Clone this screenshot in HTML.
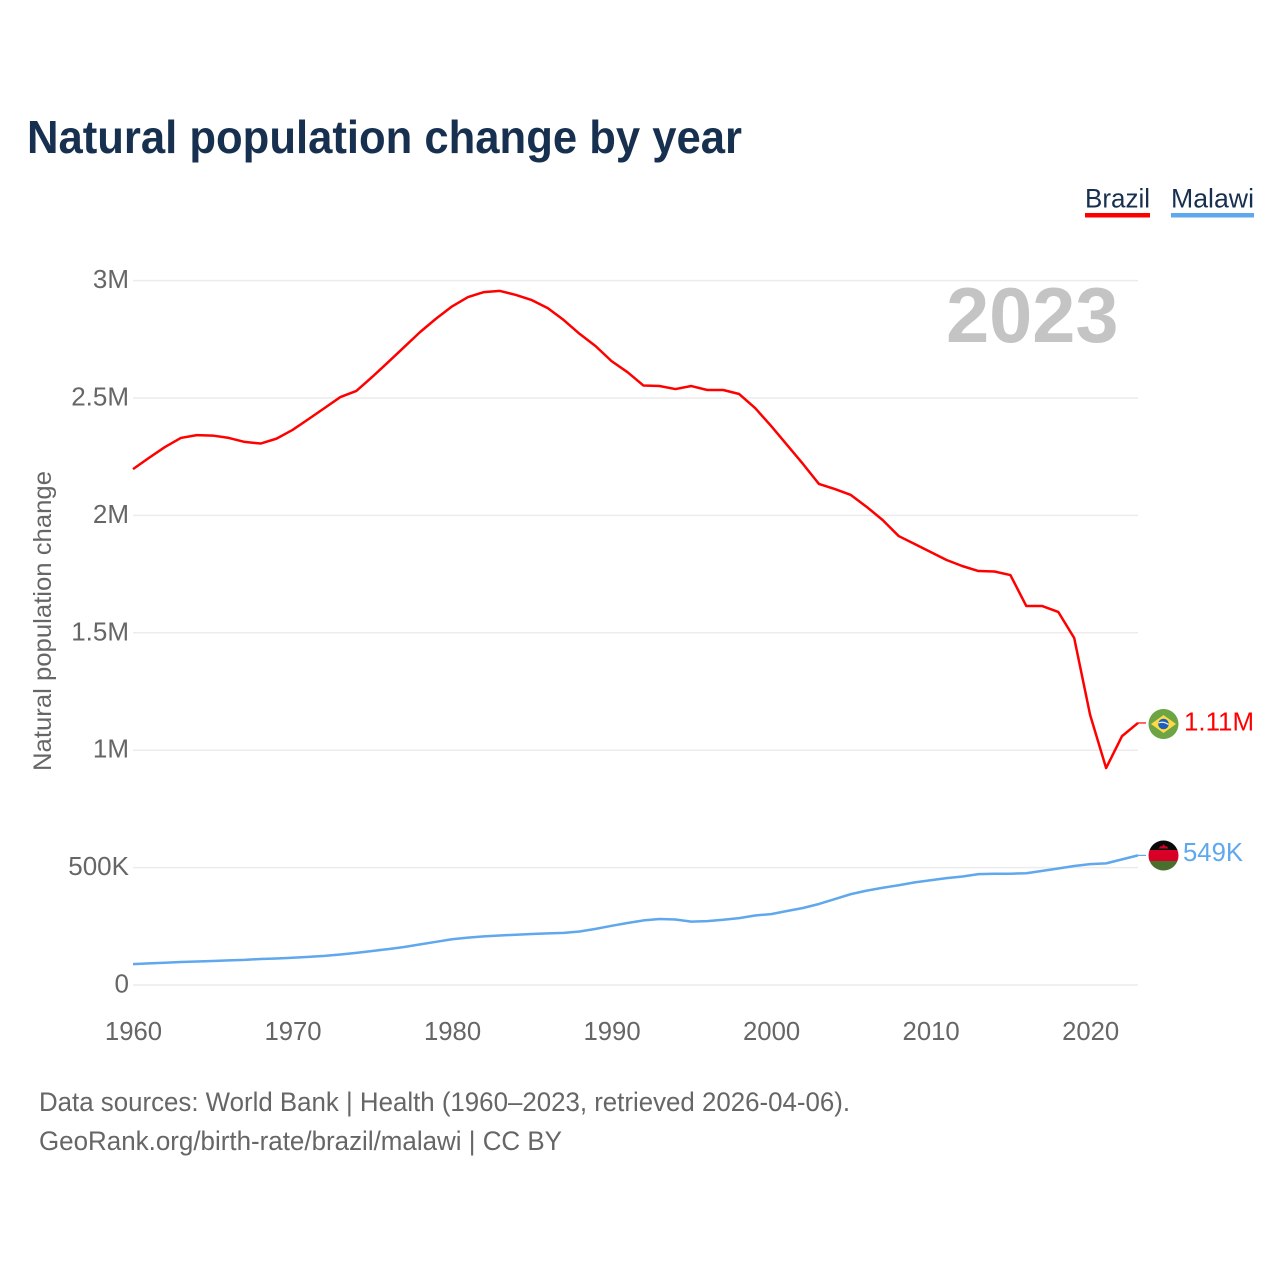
<!DOCTYPE html>
<html lang="en">
<head>
<meta charset="utf-8">
<title>Natural population change by year</title>
<style>
html,body{margin:0;padding:0;background:#fff;width:1280px;height:1280px;overflow:hidden}
svg{display:block;font-family:"Liberation Sans",Arial,sans-serif}
</style>
</head>
<body>
<svg id="chart" width="1280" height="1280" viewBox="0 0 1280 1280" xmlns="http://www.w3.org/2000/svg">
  <rect width="1280" height="1280" fill="#fff"/>
  <text x="27" y="153" font-size="46" font-weight="700" fill="#17304f" textLength="715" lengthAdjust="spacingAndGlyphs">Natural population change by year</text>
  <g>
    <text x="1085" y="207.5" font-size="26.5" fill="#17304f" textLength="65" lengthAdjust="spacingAndGlyphs">Brazil</text>
    <rect x="1085" y="213" width="65" height="4.5" fill="#ff0000"/>
  </g>
  <g>
    <text x="1171" y="207.5" font-size="26.5" fill="#17304f" textLength="83" lengthAdjust="spacingAndGlyphs">Malawi</text>
    <rect x="1171" y="213" width="83" height="4.5" fill="#5fa8ee"/>
  </g>
  <g id="grid"></g>
  <g id="yticks"></g>
  <g id="xticks"></g>
  <text transform="translate(51,771) rotate(-90)" font-size="25" fill="#666" textLength="300" lengthAdjust="spacingAndGlyphs">Natural population change</text>
  <text x="1118.5" y="342" text-anchor="end" font-size="77.5" font-weight="700" fill="#c4c4c4">2023</text>
  <g id="series"></g>
  <g>
    <circle cx="1163.5" cy="724" r="15" fill="#6da544"/>
    <polygon points="1163.5,715 1176,724 1163.5,733 1151,724" fill="#ffda44"/>
    <circle cx="1163.5" cy="724" r="5.3" fill="#1f5fb5"/>
    <path d="M1158.5 723q5-2 10 1.5" stroke="#f0f0f0" stroke-width="1.2" fill="none"/>
  </g>
  <g>
    <clipPath id="malawi-clip"><circle cx="1163.5" cy="855.5" r="15"/></clipPath>
    <g clip-path="url(#malawi-clip)">
      <rect x="1148" y="840" width="31" height="10" fill="#0a0a0a"/>
      <rect x="1148" y="850" width="31" height="11" fill="#d80027"/>
      <rect x="1148" y="861" width="31" height="10" fill="#496e2d"/>
    </g>
    <path d="M1158.5 848.5h10l-2-2.5-1 .5-1.9-2.2-1.9 2.2-1-.5z" fill="#d80027"/>
  </g>
  <text x="1184" y="730.5" font-size="25.5" fill="#ff0000" textLength="70" lengthAdjust="spacingAndGlyphs">1.11M</text>
  <text x="1183" y="861" font-size="25.5" fill="#5fa8ee" textLength="60" lengthAdjust="spacingAndGlyphs">549K</text>
  <text x="39" y="1111" font-size="26.5" fill="#666" textLength="811" lengthAdjust="spacingAndGlyphs">Data sources: World Bank | Health (1960–2023, retrieved 2026-04-06).</text>
  <text x="39" y="1150" font-size="26.5" fill="#666" textLength="523" lengthAdjust="spacingAndGlyphs">GeoRank.org/birth-rate/brazil/malawi | CC BY</text>
</svg>
<script>
const startYear = 1960;
const xTickYears = [1960, 1970, 1980, 1990, 2000, 2010, 2020];
const yTickValues = [0, 500000, 1000000, 1500000, 2000000, 2500000, 3000000];
const yTickLabels = ['0', '500K', '1M', '1.5M', '2M', '2.5M', '3M'];
const brazilValues = [2197000,2245000,2291000,2330000,2342000,2340000,2330000,2313000,2306000,2327000,
  2364000,2410000,2457000,2504000,2530000,2590000,2653000,2717000,2781000,2838000,
  2890000,2930000,2951000,2956000,2939000,2917000,2883000,2832000,2773000,2721000,
  2657000,2610000,2553000,2551000,2538000,2551000,2534000,2534000,2517000,2457000,
  2381000,2300000,2219000,2134000,2112000,2087000,2036000,1980000,1912000,1878000,
  1844000,1810000,1784000,1763000,1761000,1746000,1614000,1614000,1589000,1478000,
  1150000,924000,1060000,1116000];
const malawiValues = [89000,92000,95000,98000,100000,102000,105000,107000,111000,113000,
  116000,120000,124000,130000,137000,145000,153000,162000,173000,184000,
  195000,202000,207000,211000,214000,217000,220000,222000,228000,239000,
  252000,264000,275000,281000,279000,270000,272000,278000,285000,296000,
  302000,315000,328000,345000,366000,387000,402000,414000,425000,437000,
  446000,455000,462000,472000,474000,474000,476000,486000,496000,507000,
  515000,518000,535000,552000];

const NS = 'http://www.w3.org/2000/svg';
const plotLeft = 133, plotRight = 1138, plotBottom = 985, plotTop = 280.6;
const yearSpan = brazilValues.length - 1;
function xScale(year) { return plotLeft + (year - startYear) * (plotRight - plotLeft) / yearSpan; }
function yScale(v) { return plotBottom - v * (plotBottom - plotTop) / 3000000; }

const grid = document.getElementById('grid');
const yticks = document.getElementById('yticks');
const xticks = document.getElementById('xticks');
const series = document.getElementById('series');

yTickValues.forEach(function (v, i) {
  const line = document.createElementNS(NS, 'line');
  
  
  line.setAttribute('x1', plotLeft);
  line.setAttribute('x2', plotRight);
  line.setAttribute('y1', yScale(v));
  line.setAttribute('y2', yScale(v));
  line.setAttribute('stroke', '#ececec');
  line.setAttribute('stroke-width', '1.5');
  grid.appendChild(line);
  const t = document.createElementNS(NS, 'text');
  
  
  t.setAttribute('x', 129);
  t.setAttribute('y', yScale(v) + 7.5);
  t.setAttribute('text-anchor', 'end');
  t.setAttribute('font-size', '26');
  t.setAttribute('fill', '#666');
  t.textContent = yTickLabels[i];
  yticks.appendChild(t);
});

xTickYears.forEach(function (year) {
  const t = document.createElementNS(NS, 'text');
  
  
  t.setAttribute('x', xScale(year) + 0.5);
  t.setAttribute('y', 1040);
  t.setAttribute('text-anchor', 'middle');
  t.setAttribute('font-size', '25.7');
  t.setAttribute('fill', '#666');
  t.textContent = String(year);
  xticks.appendChild(t);
});

function drawSeries(values, color, name) {
  const pts = values.map(function (v, i) { return xScale(startYear + i).toFixed(2) + ',' + yScale(v).toFixed(2); });
  const line = document.createElementNS(NS, 'polyline');
  
  
  line.setAttribute('points', pts.join(' '));
  line.setAttribute('fill', 'none');
  line.setAttribute('stroke', color);
  line.setAttribute('stroke-width', '2.5');
  line.setAttribute('stroke-linejoin', 'round');
  series.appendChild(line);
  const lastY = yScale(values[values.length - 1]);
  const tail = document.createElementNS(NS, 'line');
  
  
  tail.setAttribute('x1', plotRight);
  tail.setAttribute('x2', plotRight + 8);
  tail.setAttribute('y1', lastY);
  tail.setAttribute('y2', lastY);
  tail.setAttribute('stroke', color);
  tail.setAttribute('stroke-width', '1.2');
  series.appendChild(tail);
}
drawSeries(brazilValues, '#ff0000', 'brazil');
drawSeries(malawiValues, '#5fa8ee', 'malawi');
</script>
</body>
</html>
